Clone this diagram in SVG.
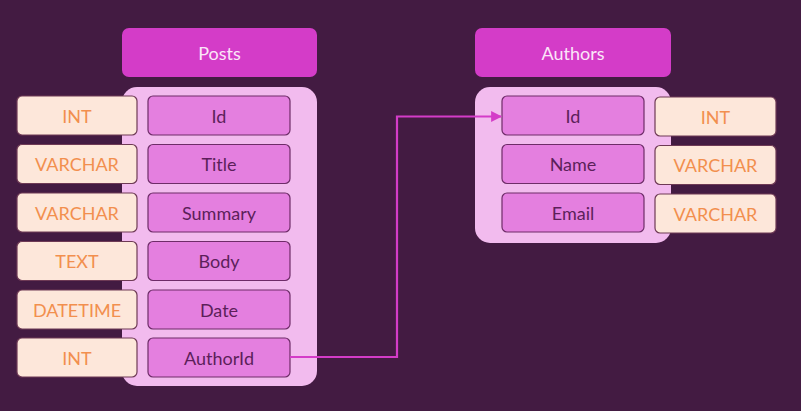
<svg xmlns="http://www.w3.org/2000/svg" width="801" height="411" viewBox="0 0 801 411">
<defs>
<style>
.hdr{fill:#d43cc8;}
.hdrt{fill:#fbe6f8;font-family:Lato,"Noto Sans",sans-serif;font-size:18px;text-anchor:middle;dominant-baseline:central;}
.body{fill:#f2bbee;}
.fld{fill:#e47fdf;stroke:#6e2c68;stroke-width:1.2;}
.fldt{fill:#5c1f5a;font-family:Lato,"Noto Sans",sans-serif;font-size:18px;text-anchor:middle;dominant-baseline:central;}
.typ{fill:#fde7da;stroke:#6e3a55;stroke-width:1.2;}
.typt{fill:#f28f4e;font-family:Lato,"Noto Sans",sans-serif;font-size:18px;text-anchor:middle;dominant-baseline:central;}
</style>
<marker id="arr" viewBox="0 0 10 10" refX="9" refY="5" markerWidth="5" markerHeight="5" orient="auto">
<path d="M0,0 L10,5 L0,10 z" fill="#d43cc8"/>
</marker>
</defs>
<rect width="801" height="411" fill="#431b42"/>
<g id="posts">
<rect class="hdr" x="122" y="28" width="195" height="49" rx="7"/>
<text class="hdrt" x="219.5" y="52.5">Posts</text>
<rect class="body" x="122" y="87" width="195" height="299" rx="15"/>
</g>
<g id="posts-id"><rect class="typ" x="17" y="96" width="120" height="39" rx="5"/><text class="typt" x="77" y="115.5">INT</text><rect class="fld" x="148" y="96" width="142" height="39" rx="5"/><text class="fldt" x="219" y="115.5">Id</text></g>
<g id="posts-title"><rect class="typ" x="17" y="144.5" width="120" height="39" rx="5"/><text class="typt" x="77" y="164">VARCHAR</text><rect class="fld" x="148" y="144.5" width="142" height="39" rx="5"/><text class="fldt" x="219" y="164">Title</text></g>
<g id="posts-summary"><rect class="typ" x="17" y="193" width="120" height="39" rx="5"/><text class="typt" x="77" y="212.5">VARCHAR</text><rect class="fld" x="148" y="193" width="142" height="39" rx="5"/><text class="fldt" x="219" y="212.5">Summary</text></g>
<g id="posts-body"><rect class="typ" x="17" y="241.5" width="120" height="39" rx="5"/><text class="typt" x="77" y="261">TEXT</text><rect class="fld" x="148" y="241.5" width="142" height="39" rx="5"/><text class="fldt" x="219" y="261">Body</text></g>
<g id="posts-date"><rect class="typ" x="17" y="290" width="120" height="39" rx="5"/><text class="typt" x="77" y="309.5">DATETIME</text><rect class="fld" x="148" y="290" width="142" height="39" rx="5"/><text class="fldt" x="219" y="309.5">Date</text></g>
<g id="posts-authorid"><rect class="typ" x="17" y="338" width="120" height="39" rx="5"/><text class="typt" x="77" y="357.5">INT</text><rect class="fld" x="148" y="338" width="142" height="39" rx="5"/><text class="fldt" x="219" y="357.5">AuthorId</text></g>
<g id="authors">
<rect class="hdr" x="475" y="28" width="196" height="49" rx="7"/>
<text class="hdrt" x="573" y="52.5">Authors</text>
<rect class="body" x="475" y="87" width="196" height="156" rx="15"/>
</g>
<g id="authors-id"><rect class="fld" x="502" y="96" width="142" height="39" rx="5"/><text class="fldt" x="573" y="115.5">Id</text><rect class="typ" x="655" y="97" width="121" height="39" rx="5"/><text class="typt" x="715.5" y="116.5">INT</text></g>
<g id="authors-name"><rect class="fld" x="502" y="144.5" width="142" height="39" rx="5"/><text class="fldt" x="573" y="164">Name</text><rect class="typ" x="655" y="145.5" width="121" height="39" rx="5"/><text class="typt" x="715.5" y="165">VARCHAR</text></g>
<g id="authors-email"><rect class="fld" x="502" y="193" width="142" height="39" rx="5"/><text class="fldt" x="573" y="212.5">Email</text><rect class="typ" x="655" y="194" width="121" height="39" rx="5"/><text class="typt" x="715.5" y="213.5">VARCHAR</text></g>
<g id="connectors">
<path d="M290,357 H397 V116.5 H501" fill="none" stroke="#d43cc8" stroke-width="2.2" marker-end="url(#arr)"/>
</g>
</svg>
